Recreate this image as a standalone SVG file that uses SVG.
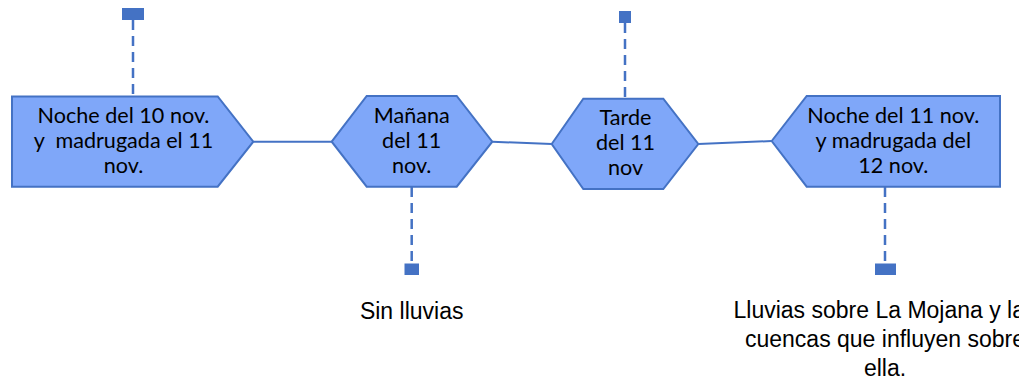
<svg xmlns="http://www.w3.org/2000/svg" width="1019" height="382" viewBox="0 0 1019 382">
<style>
.shape{fill:#7FA7F9;stroke:#4472C4;stroke-width:2;stroke-linejoin:miter}
.lbl{font-family:Lato,"Open Sans","Noto Sans",sans-serif;font-size:21.6px;fill:#000;text-anchor:middle;white-space:pre}
.note{font-family:"Liberation Sans",Arial,sans-serif;font-size:23px;fill:#000;text-anchor:middle}
.link{stroke:#4472C4;stroke-width:2;fill:none}
.dash{stroke:#4472C4;stroke-width:2.5;fill:none;stroke-dasharray:10 6}
.mark{fill:#4472C4}
</style>
<rect width="1019" height="382" fill="#fff"/>
<g id="connectors">
<line class="link" x1="253.3" y1="141.7" x2="331.7" y2="141.7"/>
<line class="link" x1="492.3" y1="141.7" x2="551.7" y2="144"/>
<line class="link" x1="698.3" y1="144" x2="771.7" y2="141"/>
<line class="dash" x1="133" y1="20" x2="133" y2="96"/>
<line class="dash" x1="411.7" y1="187" x2="411.7" y2="263"/>
<line class="dash" x1="625" y1="23" x2="625" y2="98.7"/>
<line class="dash" x1="885" y1="187" x2="885" y2="263"/>
<rect class="mark" x="122" y="8" width="22" height="12"/>
<rect class="mark" x="404.5" y="263.5" width="14.5" height="11.5"/>
<rect class="mark" x="619" y="11" width="12" height="12"/>
<rect class="mark" x="875" y="263.5" width="21" height="11.5"/>
</g>
<g id="node1">
<polygon class="shape" points="12,96.5 217.7,96.5 253.3,141.7 217.7,186.7 12,186.7"/>
<text class="lbl" x="123.5" y="123">Noche del 10 nov.</text>
<text class="lbl" x="123.5" y="148">y  madrugada el 11</text>
<text class="lbl" x="123.5" y="173">nov.</text>
</g>
<g id="node2">
<polygon class="shape" points="331.7,141.7 366.7,96 456.7,96 492.3,141.7 456.7,186.7 366.7,186.7"/>
<text class="lbl" x="411.7" y="122.7">Mañana</text>
<text class="lbl" x="411.7" y="147.7">del 11</text>
<text class="lbl" x="411.7" y="172.7">nov.</text>
</g>
<g id="node3">
<polygon class="shape" points="551.7,144 583.3,98.7 663.3,98.7 698.3,144 663.3,189 583.3,189"/>
<text class="lbl" x="625.5" y="124.5">Tarde</text>
<text class="lbl" x="625.5" y="150">del 11</text>
<text class="lbl" x="625.5" y="175">nov</text>
</g>
<g id="node4">
<polygon class="shape" points="771.7,141 806.7,96 1000,96 1000,186.7 806.7,186.7"/>
<text class="lbl" x="893.3" y="122.7">Noche del 11 nov.</text>
<text class="lbl" x="893.3" y="148">y madrugada del</text>
<text class="lbl" x="893.3" y="173.3">12 nov.</text>
</g>
<g id="note1">
<text class="note" x="411.7" y="319">Sin lluvias</text>
</g>
<g id="note2">
<text class="note" x="885" y="318.3">Lluvias sobre La Mojana y las</text>
<text class="note" x="885" y="346.7">cuencas que influyen sobre</text>
<text class="note" x="885" y="375.5">ella.</text>
</g>
</svg>
